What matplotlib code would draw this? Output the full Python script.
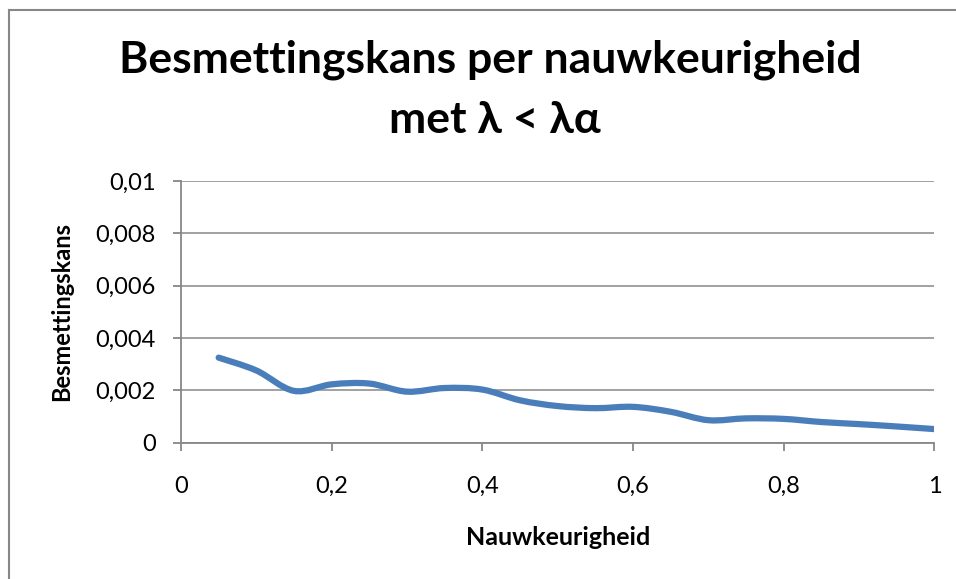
import matplotlib
matplotlib.use("Agg")
import matplotlib.pyplot as plt
from matplotlib.path import Path
from matplotlib.patches import PathPatch
from matplotlib.ticker import FuncFormatter

nauwkeurigheid = [0.05, 0.10, 0.15, 0.20, 0.25, 0.30, 0.35, 0.40, 0.45, 0.50,
                  0.55, 0.60, 0.65, 0.70, 0.75, 0.80, 0.85, 0.90, 0.95, 1.00]
besmettingskans = [0.00325, 0.00276, 0.00198, 0.00223, 0.00226, 0.00195, 0.00209,
                   0.00203, 0.00162, 0.00140, 0.00132, 0.00137, 0.00118, 0.00086,
                   0.00093, 0.00091, 0.00079, 0.00071, 0.00062, 0.00052]
x_ticks = [0, 0.2, 0.4, 0.6, 0.8, 1]
y_ticks = [0, 0.002, 0.004, 0.006, 0.008, 0.01]

GRAY = '#878787'
BLUE = '#4a7ebb'
plt.rcParams['font.family'] = ['Lato', 'DejaVu Sans']


def smooth_path(xs, ys):
    # Excel-like smoothed line: Catmull-Rom segments as cubic Bezier curves
    pts = list(zip(xs, ys))
    verts = [pts[0]]
    codes = [Path.MOVETO]
    n = len(pts)
    for i in range(n - 1):
        p0 = pts[max(i - 1, 0)]
        p1 = pts[i]
        p2 = pts[i + 1]
        p3 = pts[min(i + 2, n - 1)]
        c1 = (p1[0] + (p2[0] - p0[0]) / 6, p1[1] + (p2[1] - p0[1]) / 6)
        c2 = (p2[0] - (p3[0] - p1[0]) / 6, p2[1] - (p3[1] - p1[1]) / 6)
        verts += [c1, c2, p2]
        codes += [Path.CURVE4] * 3
    return Path(verts, codes)


fig = plt.figure(figsize=(9.56, 5.79), dpi=100)
ax = fig.add_axes([0.1893, 0.2354, 0.7882, 0.4520])

patch = PathPatch(smooth_path(nauwkeurigheid, besmettingskans), fill=False,
                  edgecolor=BLUE, linewidth=4.5, capstyle='round', joinstyle='round',
                  zorder=3)
ax.add_patch(patch)

ax.set_xlim(0, 1)
ax.set_ylim(0, 0.01)
ax.set_xticks(x_ticks)
ax.set_yticks(y_ticks)
fmt = FuncFormatter(lambda v, p: ('%g' % v).replace('.', ','))
ax.xaxis.set_major_formatter(fmt)
ax.yaxis.set_major_formatter(fmt)

ax.grid(axis='y', color=GRAY, linewidth=1.1)
ax.set_axisbelow(True)
for s in ['top', 'right']:
    ax.spines[s].set_visible(False)
for s in ['left', 'bottom']:
    ax.spines[s].set_color(GRAY)
    ax.spines[s].set_linewidth(1.3)
ax.tick_params(axis='both', direction='out', length=6, width=1.3, color=GRAY,
               labelsize=17, labelcolor='black')
ax.tick_params(axis='y', pad=12)
ax.tick_params(axis='x', pad=18)

ax.set_xlabel('Nauwkeurigheid', fontsize=18, fontweight='bold')
ax.set_ylabel('Besmettingskans', fontsize=17, fontweight='bold')
ax.xaxis.set_label_coords(0.5, -0.364)
ax.yaxis.set_label_coords(-0.158, 0.5)
ax.xaxis.label.set_va('center')
ax.yaxis.label.set_va('center')

fig.text(490 / 956, 1 - 60 / 579, 'Besmettingskans per nauwkeurigheid',
         ha='center', va='center', fontsize=32, fontweight='bold')
fig.text(495 / 956, 1 - 120 / 579, 'met λ < λα',
         ha='center', va='center', fontsize=32, fontweight='bold')

# chart area border (only left and top are visible in the crop)
fig.add_artist(plt.Line2D([9 / 956, 9 / 956], [0, 1 - 10 / 579],
                          transform=fig.transFigure, color=GRAY, linewidth=1.5))
fig.add_artist(plt.Line2D([9 / 956, 1], [1 - 10 / 579, 1 - 10 / 579],
                          transform=fig.transFigure, color=GRAY, linewidth=1.5))

fig.savefig('out.png', dpi=100)
